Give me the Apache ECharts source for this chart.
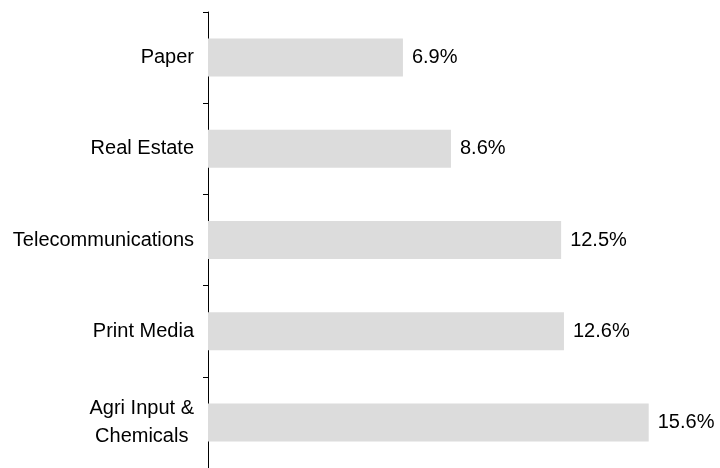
<!DOCTYPE html>
<html>
<head>
<meta charset="utf-8">
<script src="https://cdn.jsdelivr.net/npm/echarts@6/dist/echarts.min.js"></script>
<style>
  html, body { margin: 0; padding: 0; background: #fff; }
  #chart { width: 720px; height: 468px; }
</style>
</head>
<body>
<div id="chart"></div>
<script>
// Sector names (top to bottom) and their shares in percent
const categories = ['Paper', 'Real Estate', 'Telecommunications', 'Print Media', 'Agri Input &\nChemicals'];
const shares = [6.9, 8.6, 12.5, 12.6, 15.6];

const FONT = '"Liberation Sans", Arial, sans-serif';

const chart = echarts.init(document.getElementById('chart'), null, { renderer: 'canvas' });

chart.setOption({
  animation: false,
  backgroundColor: '#ffffff',
  grid: { left: 208, top: 12, width: 452, height: 458, containLabel: false },
  xAxis: {
    type: 'value',
    min: 0,
    max: 16,
    show: false
  },
  yAxis: {
    type: 'category',
    data: categories,
    inverse: true,
    axisLine: { show: true, lineStyle: { color: '#000', width: 1 } },
    axisTick: { show: true, length: 5, lineStyle: { color: '#000', width: 1 } },
    splitLine: { show: false },
    axisLabel: {
      margin: 14,
      align: 'right',
      fontFamily: FONT,
      fontSize: 20,
      color: '#000',
      // each line is centred within the label block
      formatter: v => v.split('\n').map(s => '{c|' + s + '}').join('\n'),
      rich: {
        c: { align: 'center', fontFamily: FONT, fontSize: 20, color: '#000', lineHeight: 28 }
      }
    }
  },
  series: [{
    type: 'bar',
    data: shares,
    barWidth: 38,
    itemStyle: { color: '#dcdcdc' },
    label: {
      show: true,
      position: 'right',
      distance: 9,
      fontFamily: FONT,
      fontSize: 20,
      color: '#000',
      formatter: p => p.value.toFixed(1) + '%'
    }
  }]
});
</script>
</body>
</html>
